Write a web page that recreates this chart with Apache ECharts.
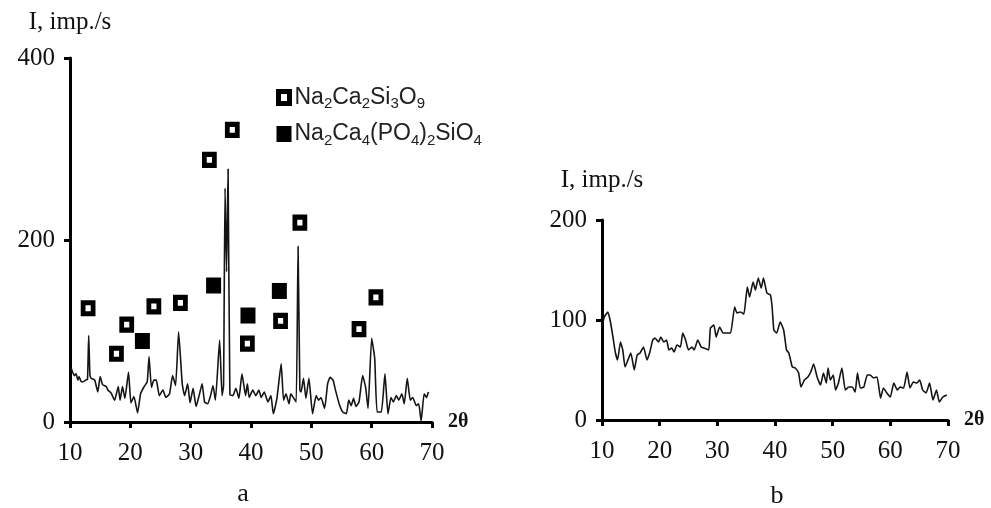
<!DOCTYPE html>
<html><head><meta charset="utf-8">
<script src="https://cdn.jsdelivr.net/npm/echarts@6/dist/echarts.min.js"></script>
<style>html,body{margin:0;padding:0;background:#fff}#c{width:991px;height:508px}</style>
</head><body><div id="c"></div>
<script>
// Panel a: XRD pattern
const aTheta = [10.2,10.7,11.0,11.3,11.5,11.8,12.1,12.6,12.9,13.1,13.3,13.5,14.1,14.6,15.0,15.4,16.0,16.3,16.8,17.4,18.0,18.3,18.7,19.1,19.7,20.1,20.6,21.2,21.7,22.3,22.8,23.1,23.5,23.9,24.3,24.8,25.4,25.9,26.5,27.0,27.5,28.0,28.6,29.0,29.5,29.9,30.4,30.9,31.4,31.9,32.3,32.8,33.3,33.7,34.1,34.8,35.2,35.45,35.7,35.95,36.2,36.5,37.0,37.5,38.0,38.5,39.1,39.4,39.7,40.3,40.8,41.3,41.7,42.2,42.8,43.3,43.7,44.3,45.0,45.4,45.8,46.3,46.6,47.1,47.5,47.8,48.1,48.3,48.7,49.1,49.6,50.2,50.8,51.2,51.6,52.2,52.7,53.1,53.6,54.0,54.7,55.2,55.8,56.2,56.6,57.0,57.4,57.9,58.5,59.0,59.4,60.0,60.5,60.9,61.6,62.2,62.7,63.2,63.6,64.1,64.5,65.0,65.4,65.9,66.4,66.8,67.4,67.8,68.2,68.7,69.1,69.4];
const aIntensity = [59,51,53,46,50,45,44,46,47,95,52,48,46,33,50,41,39,35,32,24,39,24,39,26,55,21,28,10,31,39,44,72,38,46,46,29,35,27,31,51,40,99,42,29,42,21,37,17,29,42,22,20,29,40,24,90,29,40,257,165,278,30,29,37,26,53,29,42,27,35,29,35,27,33,22,29,9,26,64,24,31,20,31,26,22,193,35,33,48,26,48,9,29,24,27,15,42,49,46,35,18,11,9,24,18,26,17,22,51,38,15,92,70,11,11,53,9,27,22,29,24,31,20,48,24,27,18,20,1,31,27,33];

// Phase markers (panel a)
const hollowTheta = [13.0,17.7,19.4,23.9,28.3,33.1,36.9,39.4,44.9,48.1,57.9,60.7];
const hollowI     = [125,75,107,127,131,288,321,86,111,219,102,137];
const filledTheta = [22.0,33.8,39.5,44.7];
const filledI     = [89,150,117,144];

// Panel b: amorphous pattern
const bTheta = [10,10.4,11,11.4,11.9,12.3,12.7,13.2,13.6,14,14.5,15,15.6,16.1,16.6,17.2,17.8,18.3,18.8,19.2,19.8,20.2,20.7,21.2,21.6,22.1,22.5,23,23.6,24,24.5,25,25.6,26,26.6,27.2,27.6,28.5,28.8,29.4,29.8,30.4,31,31.7,32.3,33,33.4,34,34.6,35.2,35.6,36.2,36.6,37.1,37.6,38,38.6,39.2,39.5,39.8,40.3,40.9,41.5,42,42.4,43,43.5,44.1,44.5,45.1,45.7,46.2,46.7,47.3,47.9,48.4,48.9,49.2,49.6,50.1,50.5,51,51.6,52.2,52.8,53.4,53.9,54.3,54.8,55.4,56,56.5,57.1,57.7,58.3,58.8,59.4,60,60.6,61.2,61.7,62.3,62.9,63.4,64,64.6,65.1,65.6,66.2,66.8,67.4,68,68.5,69.1,69.8];
const bIntensity = [93,103,108,100,83,68,60,78,70,53,60,67,50,65,67,73,60,68,80,82,78,83,78,80,70,72,68,75,73,87,80,70,73,70,80,73,72,70,92,95,83,93,87,87,87,113,107,108,106,133,123,138,130,142,132,142,127,125,113,90,87,98,90,70,67,53,52,47,33,40,43,48,56,43,35,47,37,52,40,45,30,37,52,30,33,33,28,47,32,33,45,45,42,43,22,32,27,23,37,30,33,32,48,32,38,37,40,30,27,37,20,30,18,23,25];

// Axis ticks
const thetaTicks = { min: 10, max: 70, interval: 10 };
const aYTicks = { min: 0, max: 400, interval: 200 };
const bYTicks = { min: 0, max: 200, interval: 100 };

const seriesA = aTheta.map((t, i) => [t, aIntensity[i]]);
const seriesB = bTheta.map((t, i) => [t, bIntensity[i]]);
const hollowData = hollowTheta.map((t, i) => [t, hollowI[i]]);
const filledData = filledTheta.map((t, i) => [t, filledI[i]]);

const SERIF = 'Liberation Serif';
const ink = '#111';
const axisLineStyle = { show: true, lineStyle: { color: '#000', width: 3 } };
const axisTickStyle = { show: true, length: 6, lineStyle: { color: '#000', width: 3 } };
const tickLabel = { color: ink, fontFamily: SERIF, fontSize: 25 };

function xAxis(gridIndex) {
  return {
    type: 'value', gridIndex, min: thetaTicks.min, max: thetaTicks.max, interval: thetaTicks.interval,
    axisLine: axisLineStyle, axisTick: axisTickStyle, splitLine: { show: false },
    axisLabel: Object.assign({ margin: 19 }, tickLabel),
    name: '2θ', nameLocation: 'end', nameGap: 16,
    nameTextStyle: { color: ink, fontFamily: SERIF, fontSize: 20, fontWeight: 'bold', verticalAlign: 'middle' }
  };
}
function yAxis(gridIndex, ticks, gap) {
  return {
    type: 'value', gridIndex, min: ticks.min, max: ticks.max, interval: ticks.interval,
    axisLine: axisLineStyle, axisTick: axisTickStyle, splitLine: { show: false },
    axisLabel: Object.assign({ margin: 15 }, tickLabel),
    name: 'I, imp./s', nameLocation: 'end', nameGap: gap,
    nameTextStyle: { color: ink, fontFamily: SERIF, fontSize: 25, align: 'center' }
  };
}

const subFmt = name => name.replace(/([A-Za-z()]+)(\d)/g, '{n|$1}{s|$2}');

const chart = echarts.init(document.getElementById('c'), null, { renderer: 'canvas' });
chart.setOption({
  animation: false,
  backgroundColor: '#fff',
  grid: [
    { left: 70, top: 58, width: 362, height: 364 },
    { left: 602, top: 220, width: 346, height: 200 }
  ],
  xAxis: [xAxis(0), xAxis(1)],
  yAxis: [yAxis(0, aYTicks, 23), yAxis(1, bYTicks, 27)],
  legend: {
    orient: 'vertical', left: 271, top: 81, itemWidth: 11, itemHeight: 12, itemGap: 11, itemTextGap: 20,
    formatter: subFmt,
    textStyle: {
      rich: {
        n: { fontFamily: 'Liberation Sans', fontSize: 23, color: '#222', lineHeight: 28 },
        s: { fontFamily: 'Liberation Sans', fontSize: 15, color: '#222', lineHeight: 15, verticalAlign: 'bottom' }
      }
    },
    data: [
      { name: 'Na2Ca2Si3O9', icon: 'rect', itemStyle: { color: '#fff', borderColor: '#000', borderWidth: 5, opacity: 1 } },
      { name: 'Na2Ca4(PO4)2SiO4', icon: 'rect', itemStyle: { color: '#000', borderColor: '#000', borderWidth: 4, opacity: 1 } }
    ]
  },
  graphic: [
    { type: 'text', x: 243, y: 494, style: { text: 'a', fontFamily: SERIF, fontSize: 26, fill: ink, align: 'center', verticalAlign: 'middle' } },
    { type: 'text', x: 777, y: 496, style: { text: 'b', fontFamily: SERIF, fontSize: 26, fill: ink, align: 'center', verticalAlign: 'middle' } }
  ],
  series: [
    { type: 'line', name: 'a', xAxisIndex: 0, yAxisIndex: 0, data: seriesA, showSymbol: false, smooth: 0.15,
      lineStyle: { color: '#151515', width: 1.6 }, z: 2 },
    { type: 'scatter', name: 'Na2Ca2Si3O9', xAxisIndex: 0, yAxisIndex: 0, data: hollowData, symbol: 'rect', symbolSize: [10, 11],
      itemStyle: { color: '#fff', borderColor: '#000', borderWidth: 5, opacity: 1 }, z: 3 },
    { type: 'scatter', name: 'Na2Ca4(PO4)2SiO4', xAxisIndex: 0, yAxisIndex: 0, data: filledData, symbol: 'rect', symbolSize: [15, 16],
      itemStyle: { color: '#000', opacity: 1 }, z: 3 },
    { type: 'line', name: 'b', xAxisIndex: 1, yAxisIndex: 1, data: seriesB, showSymbol: false, smooth: 0.15,
      lineStyle: { color: '#151515', width: 1.6 }, z: 2 }
  ]
});
</script></body></html>
